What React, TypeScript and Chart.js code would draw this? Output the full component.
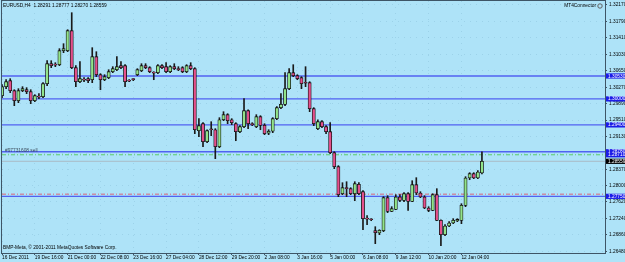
import React, { useEffect, useRef } from "react";
import { Chart, registerables } from "chart.js";

Chart.register(...registerables);

// ---------- data ----------
const symbol = "EURUSD";
const timeframe = "H4";
const timeTickLabels = [
  "16 Dec 2011", "19 Dec 16:00", "21 Dec 00:00", "22 Dec 08:00", "23 Dec 16:00",
  "27 Dec 04:00", "28 Dec 12:00", "29 Dec 20:00", "2 Jan 08:00", "3 Jan 16:00",
  "5 Jan 00:00", "6 Jan 08:00", "9 Jan 12:00", "10 Jan 20:00", "12 Jan 04:00",
];
const barsPerTick = 8;
const totalSlots = 148;

const opens = [
  1.30075, 1.30283, 1.30421, 1.30190, 1.29959, 1.30190, 1.30213, 1.30167, 1.29959, 1.30052,
  1.30052, 1.30352, 1.30814, 1.30791, 1.30791, 1.31114, 1.31114, 1.31576, 1.30722, 1.30398,
  1.30444, 1.30468, 1.30444, 1.30976, 1.30560, 1.30444, 1.30491, 1.30629, 1.30675, 1.30768,
  1.30768, 1.30421, 1.30456, 1.30560, 1.30652, 1.30768, 1.30722, 1.30606, 1.30606, 1.30768,
  1.30745, 1.30629, 1.30745, 1.30687, 1.30722, 1.30629, 1.30768, 1.30699, 1.29266, 1.29428,
  1.29012, 1.29301, 1.29289, 1.28897, 1.29520, 1.29636, 1.29520, 1.29428, 1.29243, 1.29359,
  1.29728, 1.29416, 1.29359, 1.29590, 1.29389, 1.29208, 1.29255, 1.29544, 1.29798, 1.29874,
  1.30237, 1.30606, 1.30537, 1.30491, 1.30375, 1.30375, 1.29775, 1.29313, 1.29474, 1.29359,
  1.29243, 1.28758, 1.28435, 1.27811, 1.27943, 1.27927, 1.27811, 1.28026, 1.27857, 1.27234,
  1.27217, 1.26956, 1.26903, 1.26956, 1.27719, 1.27402, 1.27448, 1.27735, 1.27656, 1.27811,
  1.27633, 1.28019, 1.27827, 1.27735, 1.27481, 1.27425, 1.27788, 1.27194, 1.26864, 1.27065,
  1.27134, 1.27180, 1.27194, 1.27541, 1.28174, 1.28273, 1.28174, 1.28291,
];
const highs = [
  1.30329, 1.30444, 1.30468, 1.30213, 1.30237, 1.30283, 1.30260, 1.30213, 1.30098, 1.30121,
  1.30375, 1.30883, 1.30883, 1.30837, 1.31161, 1.31276, 1.31599, 1.31992, 1.30768, 1.30860,
  1.30491, 1.30491, 1.31184, 1.31091, 1.30583, 1.30560, 1.30675, 1.30745, 1.30976, 1.30860,
  1.30791, 1.30444, 1.30468, 1.30699, 1.30814, 1.30814, 1.30745, 1.30629, 1.30791, 1.30791,
  1.30837, 1.30768, 1.30814, 1.30745, 1.30745, 1.30791, 1.30837, 1.30722, 1.29544, 1.29451,
  1.29289, 1.29474, 1.29313, 1.29567, 1.29705, 1.29659, 1.29544, 1.29451, 1.29382, 1.30006,
  1.29751, 1.29451, 1.29636, 1.29613, 1.29428, 1.29289, 1.29567, 1.29821, 1.30121, 1.30606,
  1.30699, 1.30791, 1.30560, 1.30514, 1.30745, 1.30398, 1.29798, 1.29520, 1.29497, 1.29382,
  1.29451, 1.28781, 1.28458, 1.28065, 1.28088, 1.27950, 1.28088, 1.28065, 1.27880, 1.27303,
  1.27234, 1.27049, 1.26979, 1.27742, 1.27765, 1.27511, 1.27788, 1.27788, 1.27834, 1.27834,
  1.28111, 1.28181, 1.27857, 1.27765, 1.27511, 1.27811, 1.27927, 1.27210, 1.27095, 1.27164,
  1.27234, 1.27234, 1.27580, 1.28204, 1.28296, 1.28296, 1.28342, 1.28777,
];
const lows = [
  1.30029, 1.30237, 1.30144, 1.29844, 1.29913, 1.30167, 1.30121, 1.29890, 1.29936, 1.30006,
  1.30029, 1.30306, 1.30722, 1.30745, 1.30768, 1.31068, 1.31091, 1.30699, 1.30283, 1.30375,
  1.30398, 1.30375, 1.30375, 1.30514, 1.30213, 1.30421, 1.30468, 1.30606, 1.30652, 1.30699,
  1.30283, 1.30398, 1.30421, 1.30537, 1.30629, 1.30699, 1.30606, 1.30444, 1.30583, 1.30699,
  1.30606, 1.30606, 1.30675, 1.30652, 1.30606, 1.30606, 1.30675, 1.29197, 1.29128, 1.28897,
  1.28989, 1.29151, 1.28620, 1.28874, 1.29497, 1.29428, 1.29405, 1.29035, 1.29220, 1.29336,
  1.29313, 1.29382, 1.29336, 1.29289, 1.29174, 1.29174, 1.29220, 1.29520, 1.29775, 1.29844,
  1.30213, 1.30514, 1.30444, 1.30237, 1.30283, 1.29705, 1.29382, 1.29289, 1.29336, 1.29197,
  1.28735, 1.28389, 1.27742, 1.27788, 1.27742, 1.27788, 1.27649, 1.27788, 1.26979, 1.27095,
  1.27187, 1.26656, 1.26864, 1.26933, 1.27372, 1.27395, 1.27441, 1.27626, 1.27626, 1.27425,
  1.27626, 1.27788, 1.27719, 1.27465, 1.27395, 1.27418, 1.27187, 1.26610, 1.26841, 1.27049,
  1.27118, 1.27164, 1.27118, 1.27511, 1.28134, 1.28158, 1.28158, 1.28270,
];
const closes = [
  1.30283, 1.30398, 1.30190, 1.29959, 1.30190, 1.30237, 1.30167, 1.29959, 1.30075, 1.30040,
  1.30352, 1.30814, 1.30768, 1.30779, 1.31114, 1.31161, 1.31576, 1.30722, 1.30398, 1.30468,
  1.30433, 1.30421, 1.30976, 1.30560, 1.30444, 1.30514, 1.30629, 1.30699, 1.30745, 1.30722,
  1.30398, 1.30410, 1.30444, 1.30675, 1.30768, 1.30722, 1.30629, 1.30595, 1.30768, 1.30722,
  1.30629, 1.30745, 1.30699, 1.30675, 1.30629, 1.30768, 1.30699, 1.29289, 1.29382, 1.29012,
  1.29266, 1.29289, 1.28897, 1.29520, 1.29636, 1.29497, 1.29451, 1.29243, 1.29359, 1.29728,
  1.29428, 1.29405, 1.29590, 1.29389, 1.29197, 1.29255, 1.29544, 1.29798, 1.29874, 1.30237,
  1.30606, 1.30537, 1.30468, 1.30352, 1.30363, 1.29775, 1.29428, 1.29474, 1.29359, 1.29243,
  1.28758, 1.28435, 1.27788, 1.27950, 1.27927, 1.27811, 1.28042, 1.27811, 1.27234, 1.27222,
  1.27210, 1.26910, 1.26963, 1.27719, 1.27402, 1.27465, 1.27735, 1.27656, 1.27811, 1.27633,
  1.28019, 1.27827, 1.27735, 1.27481, 1.27425, 1.27788, 1.27194, 1.26864, 1.27065, 1.27134,
  1.27194, 1.27217, 1.27541, 1.28174, 1.28273, 1.28174, 1.28312, 1.28559,
];

const priceTicks = [
  1.3217, 1.3179, 1.3141, 1.3103, 1.3065, 1.3027, 1.2989, 1.2951, 1.2913,
  1.2875, 1.2837, 1.28, 1.2762, 1.2724, 1.2686, 1.2648,
];
const yMin = 1.26441;
const yMax = 1.32262;

const levelLines = [1.3053, 1.3, 1.294, 1.2878, 1.2775];
const orderLevel = 1.2878;
const orderLabel = "#97731608 sell";
const stopLevel = 1.2871;
const redLevel = 1.278;
const bidLevel = 1.28559;

const headerRight = "MT4Connector";
const footerText = "BMP-Meta, \u00A9 2001-2011 MetaQuotes Software Corp.";

// ---------- styles ----------
const FONT = "'Liberation Sans', Arial, sans-serif";
const FS = 4.8;
const BG = "#AEE3F8";
const GRID = "rgba(95,150,180,0.22)";
const AXIS = "#3E5566";
const BULL = "#92E48A";
const BEAR = "#E4508C";
const BLUE = "#5062F2";

export default function App() {
  const ref = useRef<HTMLCanvasElement>(null);

  useEffect(() => {
    const canvas = ref.current;
    if (!canvas) return;

    const categories = Array.from({ length: totalSlots }, (_, i) =>
      i % barsPerTick === 0 && i / barsPerTick < timeTickLabels.length
        ? timeTickLabels[i / barsPerTick]
        : ""
    );
    const bodies = opens.map((o, i) => [o, closes[i]]);
    const wicks = lows.map((l, i) => [l, highs[i]]);
    const bodyColors = opens.map((o, i) => (closes[i] >= o ? BULL : BEAR));
    const last = opens.length - 1;
    const headerText = `${symbol},${timeframe}  ${opens[last].toFixed(5)} ${highs[last].toFixed(5)} ${lows[last].toFixed(5)} ${closes[last].toFixed(5)}`;

    const decor = {
      id: "mtDecor",
      beforeDraw(chart: any) {
        const c = chart.ctx;
        c.save();
        c.fillStyle = BG;
        c.fillRect(0, 0, chart.width, chart.height);
        c.restore();
      },
      beforeDatasetsDraw(chart: any) {
        const c = chart.ctx;
        const a = chart.chartArea;
        const y = chart.scales.y;
        c.save();
        c.beginPath();
        c.rect(a.left, a.top, a.right - a.left, a.bottom - a.top);
        c.clip();
        const hline = (v: number, color: string, w: number, dash: number[]) => {
          const py = y.getPixelForValue(v);
          c.strokeStyle = color;
          c.lineWidth = w;
          c.setLineDash(dash);
          c.beginPath();
          c.moveTo(a.left, py);
          c.lineTo(a.right, py);
          c.stroke();
        };
        hline(bidLevel, "#A9BCC6", 1, []);
        hline(stopLevel, "#5CCB6A", 1, [4, 2, 1, 2]);
        hline(redLevel, "#D9657A", 1, [4, 2, 1, 2]);
        levelLines.forEach((v) => hline(v, BLUE, 1.3, []));
        c.restore();
      },
      afterDraw(chart: any) {
        const c = chart.ctx;
        const a = chart.chartArea;
        const y = chart.scales.y;
        c.save();
        // frame
        c.strokeStyle = AXIS;
        c.lineWidth = 1;
        c.setLineDash([]);
        c.strokeRect(Math.round(a.left) - 0.5, Math.round(a.top) - 0.5, Math.round(a.right - a.left) + 1, Math.round(a.bottom - a.top) + 1);

        c.font = `${FS}px ${FONT}`;
        c.textBaseline = "middle";
        // axis price boxes
        const box = (v: number, fill: string) => {
          const py = y.getPixelForValue(v);
          c.fillStyle = fill;
          c.fillRect(a.right + 1, py - 2.6, chart.width - a.right - 1, 5.2);
          c.fillStyle = "#FFFFFF";
          c.textAlign = "left";
          c.fillText(v.toFixed(5), a.right + 3, py + 0.2);
        };
        levelLines.forEach((v) => box(v, "#1C1CE8"));
        box(stopLevel, "#1C1CE8");
        box(bidLevel, "#000000");

        // texts
        c.fillStyle = "#000000";
        c.textAlign = "left";
        c.fillText(headerText, a.left + 1, a.top + 5);
        c.textAlign = "right";
        c.fillText(headerRight, a.right - 9, a.top + 5);
        c.beginPath();
        c.arc(a.right - 5, a.top + 5, 2.2, 0, Math.PI * 2);
        c.strokeStyle = "#606060";
        c.lineWidth = 1;
        c.stroke();
        c.textAlign = "left";
        c.fillText(footerText, a.left + 1, a.bottom - 5);
        c.fillStyle = "#3A4A5A";
        c.fillText(orderLabel, a.left + 3, y.getPixelForValue(orderLevel) - 1.5);
        c.restore();
      },
    };

    const chart = new Chart(canvas, {
      type: "bar",
      data: {
        labels: categories,
        datasets: [
          {
            label: "body",
            data: bodies as any,
            backgroundColor: bodyColors,
            borderColor: "#111111",
            borderWidth: 0.8,
            borderSkipped: false,
            barThickness: 3.2,
            minBarLength: 1,
            grouped: false,
            order: 0,
          },
          {
            label: "wick",
            data: wicks as any,
            backgroundColor: "#1A1A1A",
            borderWidth: 0,
            barThickness: 1,
            grouped: false,
            order: 1,
          },
        ],
      },
      options: {
        responsive: false,
        animation: false,
        events: [],
        layout: { padding: { left: 2, top: 1, right: 0, bottom: 0 } },
        plugins: {
          legend: { display: false },
          tooltip: { enabled: false },
          title: { display: false },
        },
        scales: {
          x: {
            type: "category",
            offset: false,
            grid: {
              display: true,
              color: GRID,
              drawTicks: true,
              tickLength: 2,
              tickColor: AXIS,
              offset: false,
            },
            border: { display: false, dash: [1, 5] },
            ticks: {
              autoSkip: false,
              maxRotation: 0,
              minRotation: 0,
              align: "start",
              padding: 0,
              color: "#000000",
              font: { family: FONT, size: FS },
            },
            afterBuildTicks: (s: any) => {
              s.ticks = s.ticks.filter((t: any) => categories[t.value] !== "");
            },
            afterFit: (s: any) => {
              s.height = 9;
              s.paddingLeft = 0;
              s.paddingRight = 0;
            },
          } as any,
          y: {
            position: "right",
            min: yMin,
            max: yMax,
            grid: {
              color: GRID,
              drawTicks: true,
              tickLength: 2,
              tickColor: AXIS,
            },
            border: { display: false, dash: [1, 5] },
            ticks: {
              autoSkip: false,
              padding: 2,
              color: "#000000",
              font: { family: FONT, size: FS },
              callback: (v: any) => Number(v).toFixed(5),
            },
            afterBuildTicks: (s: any) => {
              s.ticks = priceTicks.map((v) => ({ value: v }));
            },
            afterFit: (s: any) => {
              s.width = 20;
              s.paddingTop = 0;
              s.paddingBottom = 0;
            },
          } as any,
        },
      },
      plugins: [decor],
    });

    return () => chart.destroy();
  }, []);

  return (
    <div style={{ position: "absolute", left: 0, top: 0, width: 625, height: 262 }}>
      <canvas ref={ref} width={625} height={262} style={{ display: "block" }} />
    </div>
  );
}
